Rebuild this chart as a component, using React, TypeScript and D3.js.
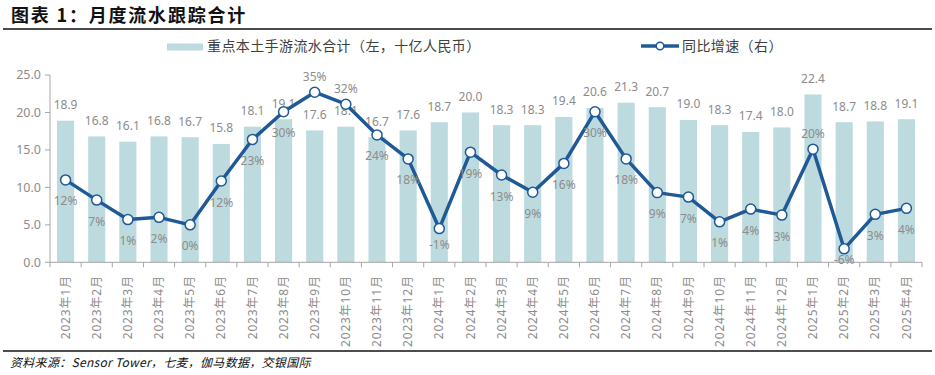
import React from "react";
import * as d3 from "d3";

const months = [
  "2023年1月", "2023年2月", "2023年3月", "2023年4月", "2023年5月", "2023年6月",
  "2023年7月", "2023年8月", "2023年9月", "2023年10月", "2023年11月", "2023年12月",
  "2024年1月", "2024年2月", "2024年3月", "2024年4月", "2024年5月", "2024年6月",
  "2024年7月", "2024年8月", "2024年9月", "2024年10月", "2024年11月", "2024年12月",
  "2025年1月", "2025年2月", "2025年3月", "2025年4月",
];
const revenue = [
  18.9, 16.8, 16.1, 16.8, 16.7, 15.8, 18.1, 19.1, 17.6, 18.1, 16.7, 17.6,
  18.7, 20.0, 18.3, 18.3, 19.4, 20.6, 21.3, 20.7, 19.0, 18.3, 17.4, 18.0,
  22.4, 18.7, 18.8, 19.1,
];
const yoy = [
  12.0, 6.6, 1.4, 2.0, 0.0, 11.7, 22.8, 30.2, 35.4, 32.2, 24.0, 17.6,
  -1.0, 19.4, 13.3, 8.7, 16.4, 30.2, 17.6, 8.6, 7.4, 0.8, 4.2, 2.6,
  20.2, -6.4, 2.8, 4.4,
];
const leftTicks = [0, 5, 10, 15, 20, 25];
const leftDomain = [0, 25];
const rightDomain = [-10, 40];

const title = "图表 1：月度流水跟踪合计";
const legendBar = "重点本土手游流水合计（左，十亿人民币）";
const legendLine = "同比增速（右）";
const source = "资料来源：Sensor Tower，七麦，伽马数据，交银国际";

// label placement (style): indices whose % label sits above the point, and special offsets
const pctAbove = new Set([8, 9, 24]);
const pctSpecialDy: Record<number, number> = { 12: 20, 25: 15 };

const W = 935;
const H = 375;
const plotLeft = 50;
const plotRight = 922;
const plotTop = 75;
const plotBottom = 262.3;

const BAR = "#BDDADF";
const LINE = "#1F5A96";
const GRAY = "#8C8C8C";
const AXIS = "#A6A6A6";
const NUM_FONT = "'Noto Sans', 'Noto Sans CJK SC', sans-serif";
const CJK_FONT = "'Noto Sans CJK SC', 'Noto Sans', sans-serif";

export default function App() {
  const x = d3
    .scaleBand<string>()
    .domain(months)
    .range([plotLeft, plotRight])
    .paddingInner(0.45)
    .paddingOuter(0.225);
  const step = x.step();
  const y = d3.scaleLinear().domain(leftDomain).range([plotBottom, plotTop]);
  const y2 = d3.scaleLinear().domain(rightDomain).range([plotBottom, plotTop]);

  const cx = (m: string) => (x(m) as number) + x.bandwidth() / 2;
  const lineGen = d3
    .line<number>()
    .x((_, i) => cx(months[i]))
    .y((d) => y2(d));

  return (
    <svg
      width={W}
      height={H}
      style={{ position: "absolute", left: 0, top: 0, background: "#fff" }}
    >
      {/* title */}
      <text x={11} y={22} fontFamily={CJK_FONT} fontWeight="bold" fontSize={18} fill="#111" letterSpacing={1.8}>
        {title}
      </text>
      <line x1={3} x2={932} y1={29} y2={29} stroke="#111" strokeWidth={1.5} />

      {/* legend */}
      <rect x={167} y={43.5} width={36} height={7} fill={BAR} />
      <text x={207} y={51} fontFamily={CJK_FONT} fontSize={14} fill="#404040" letterSpacing={0.4}>
        {legendBar}
      </text>
      <line x1={641} x2={679} y1={46} y2={46} stroke={LINE} strokeWidth={3.5} />
      <circle cx={660} cy={46} r={3.8} fill="#fff" stroke={LINE} strokeWidth={1.5} />
      <text x={682} y={51} fontFamily={CJK_FONT} fontSize={14} fill="#404040" letterSpacing={0.4}>
        {legendLine}
      </text>

      {/* left axis */}
      <line x1={plotLeft} x2={plotLeft} y1={plotTop} y2={plotBottom} stroke={AXIS} strokeWidth={1} />
      {leftTicks.map((t) => (
        <g key={t}>
          <line x1={plotLeft - 5} x2={plotLeft} y1={y(t)} y2={y(t)} stroke={AXIS} />
          <text
            x={plotLeft - 9}
            y={y(t)}
            dy="0.35em"
            textAnchor="end"
            fontFamily={NUM_FONT}
            fontSize={12.5}
            fill={GRAY}
          >
            {t.toFixed(1)}
          </text>
        </g>
      ))}

      {/* bars */}
      {revenue.map((v, i) => (
        <rect
          key={months[i]}
          x={x(months[i])}
          y={y(v)}
          width={x.bandwidth()}
          height={plotBottom - y(v)}
          fill={BAR}
        />
      ))}
      {revenue.map((v, i) => (
        <text
          key={"bl" + i}
          x={cx(months[i])}
          y={y(v) - 11.5}
          textAnchor="middle"
          fontFamily={NUM_FONT}
          fontSize={12}
          fill={GRAY}
        >
          {v.toFixed(1)}
        </text>
      ))}

      {/* x axis */}
      <line x1={plotLeft} x2={plotRight} y1={plotBottom} y2={plotBottom} stroke={AXIS} />
      {d3.range(months.length + 1).map((i) => (
        <line
          key={"t" + i}
          x1={plotLeft + i * step}
          x2={plotLeft + i * step}
          y1={plotBottom}
          y2={plotBottom + 5}
          stroke={AXIS}
        />
      ))}
      {months.map((m) => (
        <text
          key={"xl" + m}
          transform={`translate(${cx(m)},${plotBottom + 13}) rotate(-90)`}
          dy="0.35em"
          textAnchor="end"
          fontFamily={NUM_FONT}
          fontSize={12}
          fill={GRAY}
          letterSpacing={0.8}
        >
          {m}
        </text>
      ))}

      {/* line */}
      <path d={lineGen(yoy) || ""} fill="none" stroke={LINE} strokeWidth={3.5} strokeLinejoin="round" />
      {yoy.map((v, i) => (
        <circle
          key={"c" + i}
          cx={cx(months[i])}
          cy={y2(v)}
          r={5}
          fill="#fff"
          stroke={LINE}
          strokeWidth={1.5}
        />
      ))}
      {yoy.map((v, i) => {
        const dy = pctAbove.has(i) ? -11 : pctSpecialDy[i] ?? 25.5;
        return (
          <text
            key={"pl" + i}
            x={cx(months[i])}
            y={y2(v) + dy}
            textAnchor="middle"
            fontFamily={NUM_FONT}
            fontSize={12}
            fill={GRAY}
          >
            {`${Math.round(v)}%`}
          </text>
        );
      })}

      {/* footer */}
      <line x1={3} x2={932} y1={351} y2={351} stroke="#111" strokeWidth={1.5} />
      <text x={10} y={367} fontFamily={CJK_FONT} fontSize={12} fontStyle="italic" fill="#111" letterSpacing={0.3}>
        {source}
      </text>
    </svg>
  );
}
